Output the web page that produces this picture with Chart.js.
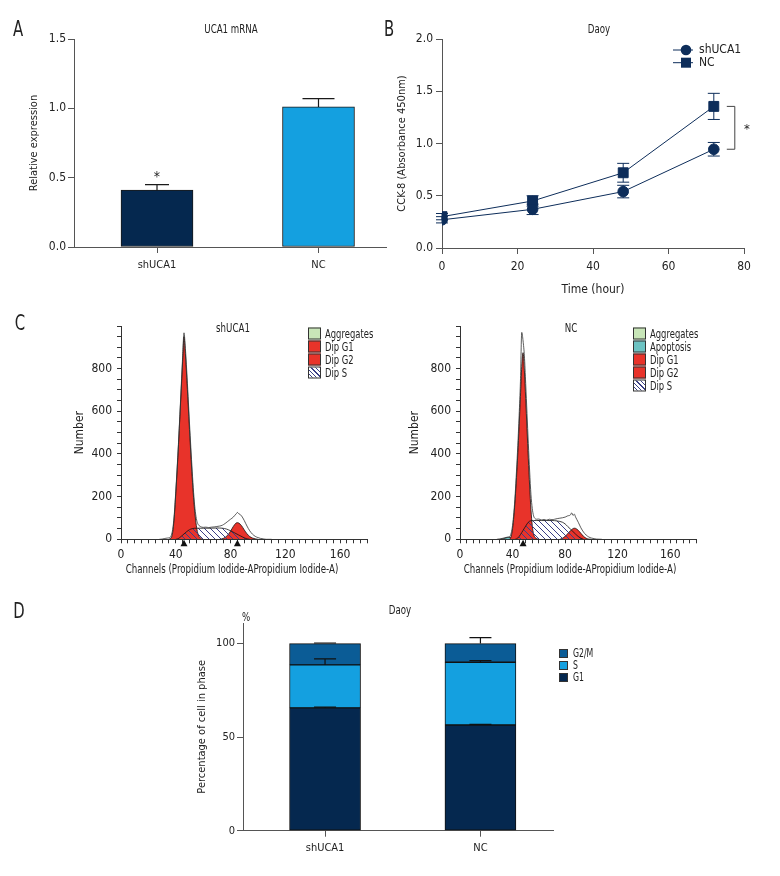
<!DOCTYPE html>
<html>
<head>
<meta charset="utf-8">
<script src="https://cdn.jsdelivr.net/npm/chart.js@4.4.1/dist/chart.umd.min.js"></script>
<style>
  body { margin: 0; background: #fff; }
  #page { position: relative; width: 780px; height: 876px; overflow: hidden;
          font-family: 'Liberation Sans Narrow', 'DejaVu Sans Condensed', 'Arial Narrow', sans-serif; color: #222; }
  canvas { position: absolute; }
  .t { position: absolute; transform: translate(-50%, -50%) scaleX(0.74); white-space: nowrap; font-size: 13px; }
  .big { font-size: 22px; transform: translate(-50%, -50%) scaleX(0.75); }
  .leg { position: absolute; transform: translateY(-50%); display: flex; align-items: center; white-space: nowrap; font-size: 13px; }
  .leg span { display: inline-block; width: 11px; height: 10px; border: 1px solid #333; margin-right: 4px; }
  .leg b { font-weight: normal; display: inline-block; transform: scaleX(0.72); transform-origin: left center; }
  .dleg { font-size: 12px; }
  .dleg span { width: 7px; height: 7px; margin-right: 5px; }
  .hatch { background: repeating-linear-gradient(45deg, #fff 0 2px, #3b3f86 2px 3px); }
</style>
</head>
<body>
<div id="page">
  <canvas id="chartA" width="390" height="280" style="left:0;top:20px"></canvas>
  <canvas id="chartB" width="390" height="290" style="left:390px;top:20px"></canvas>
  <canvas id="chartC1" width="390" height="290" style="left:0;top:300px"></canvas>
  <canvas id="chartC2" width="390" height="290" style="left:390px;top:300px"></canvas>
  <canvas id="chartD" width="400" height="286" style="left:180px;top:590px"></canvas>

  <div class="t big" style="left:18px;top:28px">A</div>
  <div class="t big" style="left:389px;top:28px">B</div>
  <div class="t big" style="left:20px;top:322px">C</div>
  <div class="t big" style="left:19px;top:610px">D</div>

  <div class="t" style="left:231px;top:28px">UCA1 mRNA</div>
  <div class="t" style="left:599px;top:28px">Daoy</div>
  <div class="t" style="left:233px;top:327px">shUCA1</div>
  <div class="t" style="left:571px;top:327px">NC</div>
  <div class="t" style="left:232px;top:568px">Channels (Propidium Iodide-APropidium Iodide-A)</div>
  <div class="t" style="left:570px;top:568px">Channels (Propidium Iodide-APropidium Iodide-A)</div>
  <div class="t" style="left:400px;top:609px">Daoy</div>
  <div class="t" style="left:246px;top:616px">%</div>

  <div class="leg" style="left:308px;top:333px"><span style="background:#c8e6b8"></span><b>Aggregates</b></div>
  <div class="leg" style="left:308px;top:346px"><span style="background:#e8332a"></span><b>Dip G1</b></div>
  <div class="leg" style="left:308px;top:359px"><span style="background:#e8332a"></span><b>Dip G2</b></div>
  <div class="leg" style="left:308px;top:372px"><span class="hatch"></span><b>Dip S</b></div>

  <div class="leg" style="left:633px;top:333px"><span style="background:#c8e6b8"></span><b>Aggregates</b></div>
  <div class="leg" style="left:633px;top:346px"><span style="background:#6cc3c3"></span><b>Apoptosis</b></div>
  <div class="leg" style="left:633px;top:359px"><span style="background:#e8332a"></span><b>Dip G1</b></div>
  <div class="leg" style="left:633px;top:372px"><span style="background:#e8332a"></span><b>Dip G2</b></div>
  <div class="leg" style="left:633px;top:385px"><span class="hatch"></span><b>Dip S</b></div>

  <div class="leg dleg" style="left:559px;top:653px"><span style="background:#0b5c96"></span><b>G2/M</b></div>
  <div class="leg dleg" style="left:559px;top:665px"><span style="background:#14a0e0"></span><b>S</b></div>
  <div class="leg dleg" style="left:559px;top:677px"><span style="background:#05284f"></span><b>G1</b></div>
</div>

<script>
// ---- data ----
// A: UCA1 mRNA
const aGroups = ['shUCA1', 'NC'];
const aExpression = [0.41, 1.01];
const aExpressionErr = [0.04, 0.06];

// B: CCK-8 growth curve
const bHours = [0, 24, 48, 72];
const bShUCA1 = [0.27, 0.37, 0.54, 0.945];
const bShUCA1Err = [0.03, 0.05, 0.06, 0.065];
const bNC = [0.30, 0.45, 0.72, 1.355];
const bNCErr = [0.03, 0.05, 0.09, 0.125];

// C: cell cycle histograms, [channel, number]
const cShRaw = [[28,0],[30,1],[32,4],[34,6],[36,10],[37,24],[38,58],[39,125],[40,225],[41,335],[42,455],[43,585],[44,720],[45,855],[46,968],[47,895],[48,790],[49,670],[50,545],[51,430],[52,320],[53,220],[54,145],[55,98],[56,74],[58,60],[60,56],[62,57],[64,55],[66,57],[68,58],[70,60],[72,62],[74,66],[76,74],[78,84],[80,94],[82,104],[83,112],[84,118],[85,126],[86,120],[87,116],[88,110],[90,88],[92,62],[94,40],[96,24],[98,14],[100,8],[102,4],[104,2],[106,0],[110,0]];
const cShG1 = [[35,0],[37,12],[38,45],[39,115],[40,215],[41,325],[42,445],[43,575],[44,705],[45,835],[46,950],[47,870],[48,760],[49,640],[50,515],[51,400],[52,290],[53,195],[54,120],[55,65],[56,30],[58,6],[60,0]];
const cShS = [[40,0],[42,4],[44,14],[46,25],[48,36],[50,45],[52,50],[55,52],[60,52],[65,52],[70,53],[74,52],[77,48],[80,40],[83,30],[86,20],[89,10],[92,2],[94,0]];
const cShG2 = [[72,0],[75,5],[78,20],[80,38],[82,60],[84,76],[85,78],[86,76],[88,64],[90,44],[92,26],[94,13],[96,6],[98,2],[100,0]];
const cShPeaks = [46, 85];

const cNcRaw = [[28,0],[30,2],[32,4],[34,7],[36,10],[38,14],[39,30],[40,65],[41,125],[42,210],[43,320],[44,440],[45,580],[46,740],[47,970],[48,930],[49,860],[50,730],[51,590],[52,450],[53,320],[54,210],[55,145],[56,110],[57,98],[58,94],[60,95],[62,91],[64,93],[66,90],[68,94],[70,92],[72,94],[74,97],[76,99],[78,101],[80,104],[82,110],[84,114],[85,124],[86,112],[87,118],[88,104],[90,80],[92,54],[94,34],[96,20],[98,11],[100,6],[102,3],[104,1],[108,0]];
const cNcApop = [[31,0],[33,3],[35,7],[37,9],[39,6],[41,0]];
const cNcG1 = [[38,0],[39,15],[40,50],[41,110],[42,190],[43,290],[44,400],[45,530],[46,670],[47,810],[48,875],[49,790],[50,660],[51,520],[52,380],[53,250],[54,140],[55,65],[56,25],[58,5],[60,0]];
const cNcS = [[42,0],[44,6],[46,22],[48,42],[50,62],[52,80],[54,87],[58,88],[62,88],[66,88],[70,88],[74,86],[78,80],[80,72],[82,60],[84,48],[86,36],[88,24],[90,13],[92,5],[94,0]];
const cNcG2 = [[76,0],[78,5],[80,14],[82,26],[84,40],[86,50],[87,52],[88,51],[90,42],[92,28],[94,14],[96,5],[98,1],[100,0]];
const cNcPeaks = [48];

// D: percentage of cells in phase
const dGroups = ['shUCA1', 'NC'];
const dG1 = [65.6, 56.5];
const dS = [23.0, 33.5];
const dG2M = [11.4, 10.0];
const dG1Err = [0.4, 0.3];
const dSErr = [3.2, 0.9];
const dG2MErr = [0.3, 3.2];

// ---- styles ----
const FONT = "'Liberation Sans Narrow', 'DejaVu Sans Condensed', 'Arial Narrow', sans-serif";
const NAVY = '#05284f';
const SKY = '#14a0e0';
const MID = '#0b5c96';
const LINE = '#0d2d5a';
const RED = '#e8332a';
const AX = '#555';

Chart.defaults.font.family = FONT;
Chart.defaults.font.size = 11;
Chart.defaults.color = '#222';
Chart.defaults.animation = false;
Chart.defaults.responsive = false;
Chart.defaults.plugins.legend.display = false;
Chart.defaults.plugins.tooltip.enabled = false;

function hatchPattern() {
  const c = document.createElement('canvas');
  c.width = 6; c.height = 6;
  const g = c.getContext('2d');
  g.strokeStyle = '#3b3f86';
  g.lineWidth = 1;
  g.beginPath();
  g.moveTo(0, 0); g.lineTo(6, 6);
  g.moveTo(-3, 3); g.lineTo(3, 9);
  g.moveTo(3, -3); g.lineTo(9, 3);
  g.stroke();
  return g.createPattern(c, 'repeat');
}

const toXY = pairs => pairs.map(([x, y]) => ({ x, y }));

// ---- A ----
const aCapWidths = [24, 32];
new Chart(document.getElementById('chartA'), {
  type: 'bar',
  data: {
    datasets: [{
      data: aGroups.map((g, i) => ({ x: i, y: aExpression[i] })),
      backgroundColor: [NAVY, SKY],
      borderColor: '#1a1a1a',
      borderWidth: 1,
      borderSkipped: false,
      barThickness: 72
    }]
  },
  options: {
    layout: { padding: { left: 24, top: 19, right: 4, bottom: 23 } },
    scales: {
      x: {
        type: 'linear', min: -0.514, max: 1.418, offset: false,
        afterBuildTicks: s => { s.ticks = aGroups.map((g, i) => ({ value: i })); },
        afterFit: s => { s.height = 30; },
        ticks: { callback: v => aGroups[v], padding: 6, maxRotation: 0, autoSkip: false },
        grid: { offset: false, drawOnChartArea: false, tickLength: 6, color: AX },
        border: { color: AX }
      },
      y: {
        min: 0, max: 1.5,
        afterFit: s => { s.width = 50; },
        ticks: { stepSize: 0.5, callback: v => v.toFixed(1), padding: 2, font: { size: 12 } },
        title: { display: true, text: 'Relative expression' },
        grid: { drawOnChartArea: false, tickLength: 6, color: AX },
        border: { color: AX }
      }
    }
  },
  plugins: [{
    id: 'errA',
    afterDatasetsDraw(chart) {
      const { ctx, scales: { x, y } } = chart;
      ctx.save();
      ctx.strokeStyle = '#1a1a1a';
      ctx.lineWidth = 1.2;
      aExpression.forEach((v, i) => {
        const px = x.getPixelForValue(i);
        const y0 = y.getPixelForValue(v);
        const y1 = y.getPixelForValue(v + aExpressionErr[i]);
        const w = aCapWidths[i] / 2;
        ctx.beginPath();
        ctx.moveTo(px, y0); ctx.lineTo(px, y1);
        ctx.moveTo(px - w, y1); ctx.lineTo(px + w, y1);
        ctx.stroke();
      });
      ctx.fillStyle = '#222';
      ctx.font = '14px ' + FONT;
      ctx.textAlign = 'center';
      ctx.textBaseline = 'middle';
      ctx.fillText('*', x.getPixelForValue(0), y.getPixelForValue(aExpression[0] + aExpressionErr[0]) - 7);
      ctx.restore();
    }
  }]
});

// ---- B ----
new Chart(document.getElementById('chartB'), {
  type: 'line',
  data: {
    datasets: [
      { label: 'shUCA1', data: bHours.map((h, i) => ({ x: h, y: bShUCA1[i] })), errors: bShUCA1Err,
        borderColor: LINE, backgroundColor: LINE, borderWidth: 1, pointStyle: 'circle', pointRadius: 5.3 },
      { label: 'NC', data: bHours.map((h, i) => ({ x: h, y: bNC[i] })), errors: bNCErr,
        borderColor: LINE, backgroundColor: LINE, borderWidth: 1, pointStyle: 'rect', pointRadius: 7 }
    ]
  },
  options: {
    layout: { padding: { left: 2, top: 19, right: 36, bottom: 9 } },
    scales: {
      x: {
        type: 'linear', min: 0, max: 80,
        afterFit: s => { s.height = 53; },
        ticks: { stepSize: 20, padding: 6, font: { size: 12 } },
        title: { display: true, text: 'Time (hour)', padding: { top: 4, bottom: 4 }, font: { size: 12 } },
        grid: { drawOnChartArea: false, tickLength: 6, color: AX },
        border: { color: AX }
      },
      y: {
        min: 0, max: 2,
        afterFit: s => { s.width = 50; },
        ticks: { stepSize: 0.5, callback: v => v.toFixed(1), padding: 3, font: { size: 12 } },
        title: { display: true, text: 'CCK-8 (Absorbance 450nm)' },
        grid: { drawOnChartArea: false, tickLength: 6, color: AX },
        border: { color: AX }
      }
    }
  },
  plugins: [{
    id: 'errB',
    beforeDatasetsDraw(chart) {
      const { ctx, scales: { x, y } } = chart;
      ctx.save();
      ctx.strokeStyle = LINE;
      ctx.lineWidth = 1;
      chart.data.datasets.forEach(ds => {
        ds.data.forEach((p, i) => {
          const px = x.getPixelForValue(p.x);
          const y1 = y.getPixelForValue(p.y + ds.errors[i]);
          const y2 = y.getPixelForValue(p.y - ds.errors[i]);
          ctx.beginPath();
          ctx.moveTo(px, y1); ctx.lineTo(px, y2);
          ctx.moveTo(px - 6, y1); ctx.lineTo(px + 6, y1);
          ctx.moveTo(px - 6, y2); ctx.lineTo(px + 6, y2);
          ctx.stroke();
        });
      });
      ctx.restore();
    },
    afterDraw(chart) {
      const { ctx, scales: { x, y } } = chart;
      ctx.save();
      // legend
      chart.data.datasets.forEach((ds, k) => {
        const ly = 30 + k * 12.7;
        ctx.strokeStyle = LINE;
        ctx.fillStyle = LINE;
        ctx.lineWidth = 1;
        ctx.beginPath();
        ctx.moveTo(283, ly); ctx.lineTo(303, ly);
        ctx.stroke();
        if (ds.pointStyle === 'circle') {
          ctx.beginPath(); ctx.arc(296, ly, 5.3, 0, Math.PI * 2); ctx.fill();
        } else {
          ctx.fillRect(291, ly - 5, 10, 10);
        }
        ctx.fillStyle = '#222';
        ctx.font = '12px ' + FONT;
        ctx.textAlign = 'left';
        ctx.textBaseline = 'middle';
        ctx.fillText(ds.label, 309, ly);
      });
      // significance bracket at the last time point
      const last = bHours.length - 1;
      const bx = x.getPixelForValue(bHours[last]) + 21;
      const yTop = y.getPixelForValue(bNC[last]);
      const yBot = y.getPixelForValue(bShUCA1[last]);
      ctx.strokeStyle = '#444';
      ctx.beginPath();
      ctx.moveTo(bx - 8, yTop); ctx.lineTo(bx, yTop); ctx.lineTo(bx, yBot); ctx.lineTo(bx - 8, yBot);
      ctx.stroke();
      ctx.fillStyle = '#222';
      ctx.font = '13px ' + FONT;
      ctx.textAlign = 'center';
      ctx.textBaseline = 'middle';
      ctx.fillText('*', bx + 12, (yTop + yBot) / 2 + 2);
      ctx.restore();
    }
  }]
});

// ---- C ----
function histChart(id, parts, peaks, pad, yWidth) {
  const hatch = hatchPattern();
  const line = { pointRadius: 0, borderWidth: 0.8, cubicInterpolationMode: 'monotone' };
  const datasets = [
    Object.assign({ data: toXY(parts.raw), borderColor: '#333', fill: false, order: 0 }, line),
    Object.assign({ data: toXY(parts.s), borderColor: '#111', backgroundColor: hatch, fill: 'origin', order: 1 }, line),
    Object.assign({ data: toXY(parts.g2), borderColor: '#111', backgroundColor: RED, fill: 'origin', order: 2 }, line),
    Object.assign({ data: toXY(parts.g1), borderColor: '#111', backgroundColor: RED, fill: 'origin', order: 3 }, line)
  ];
  if (parts.apop) {
    datasets.push(Object.assign({ data: toXY(parts.apop), borderColor: '#111', backgroundColor: '#6cc3c3', fill: 'origin', order: 4 }, line));
  }
  new Chart(document.getElementById(id), {
    type: 'line',
    data: { datasets },
    options: {
      layout: { padding: pad },
      scales: {
        x: {
          type: 'linear', min: 0, max: 180,
          afterBuildTicks: s => {
            const t = [];
            for (let v = 0; v <= 180; v += 5) t.push({ value: v });
            s.ticks = t;
          },
          afterFit: s => { s.height = 30; },
          ticks: { callback: v => (v % 40 === 0 ? v : ''), padding: 4, autoSkip: false, maxRotation: 0, font: { size: 12 } },
          grid: { drawOnChartArea: false, tickLength: 4, color: '#333' },
          border: { color: '#333' }
        },
        y: {
          min: 0, max: 1000,
          afterFit: s => { s.width = yWidth; },
          ticks: { stepSize: 50, callback: v => (v % 200 === 0 && v < 1000 ? v : ''), padding: 5, autoSkip: false, font: { size: 12 } },
          title: { display: true, text: 'Number', font: { size: 12 } },
          grid: { drawOnChartArea: false, tickLength: 4, color: '#333' },
          border: { color: '#333' }
        }
      }
    },
    plugins: [{
      id: 'peakMarks',
      afterDraw(chart) {
        const { ctx, scales: { x, y } } = chart;
        ctx.save();
        ctx.fillStyle = '#111';
        peaks.forEach(ch => {
          const px = x.getPixelForValue(ch);
          const py = y.getPixelForValue(0);
          ctx.beginPath();
          ctx.moveTo(px, py + 0.5); ctx.lineTo(px + 3.5, py + 7); ctx.lineTo(px - 3.5, py + 7);
          ctx.closePath();
          ctx.fill();
        });
        ctx.restore();
      }
    }]
  });
}

histChart('chartC1', { raw: cShRaw, g1: cShG1, s: cShS, g2: cShG2 }, cShPeaks,
  { left: 69, top: 26, right: 22.5, bottom: 20.7 }, 52);
histChart('chartC2', { raw: cNcRaw, g1: cNcG1, s: cNcS, g2: cNcG2, apop: cNcApop }, cNcPeaks,
  { left: 14, top: 26, right: 83.5, bottom: 20.7 }, 56);

// ---- D ----
const dErr = [dG1Err, dSErr, dG2MErr];
new Chart(document.getElementById('chartD'), {
  type: 'bar',
  data: {
    datasets: [
      { label: 'G1', data: dGroups.map((g, i) => ({ x: i, y: dG1[i] })), backgroundColor: NAVY },
      { label: 'S', data: dGroups.map((g, i) => ({ x: i, y: dS[i] })), backgroundColor: SKY },
      { label: 'G2/M', data: dGroups.map((g, i) => ({ x: i, y: dG2M[i] })), backgroundColor: MID }
    ].map(ds => Object.assign(ds, { borderColor: '#111', borderWidth: 1, borderSkipped: false, barThickness: 71 }))
  },
  options: {
    layout: { padding: { left: 12, top: 33, right: 27, bottom: 15.3 } },
    scales: {
      x: {
        type: 'linear', min: -0.528, max: 1.467, stacked: true, offset: false,
        afterBuildTicks: s => { s.ticks = dGroups.map((g, i) => ({ value: i })); },
        afterFit: s => { s.height = 30; },
        ticks: { callback: v => dGroups[v], padding: 5, maxRotation: 0, autoSkip: false },
        grid: { offset: false, drawOnChartArea: false, tickLength: 6, color: AX },
        border: { color: AX }
      },
      y: {
        min: 0, max: 111, stacked: true,
        afterFit: s => { s.width = 51; },
        ticks: { stepSize: 50, includeBounds: false, padding: 2 },
        title: { display: true, text: 'Percentage of cell in phase' },
        grid: { drawOnChartArea: false, tickLength: 6, color: AX },
        border: { color: AX }
      }
    }
  },
  plugins: [{
    id: 'errD',
    afterDatasetsDraw(chart) {
      const { ctx, scales: { y } } = chart;
      ctx.save();
      ctx.strokeStyle = '#111';
      ctx.lineWidth = 1.2;
      chart.data.datasets.forEach((ds, k) => {
        chart.getDatasetMeta(k).data.forEach((bar, i) => {
          const top = y.getValueForPixel(bar.y);
          const y1 = y.getPixelForValue(top + dErr[k][i]);
          ctx.beginPath();
          ctx.moveTo(bar.x, bar.y); ctx.lineTo(bar.x, y1);
          ctx.moveTo(bar.x - 11, y1); ctx.lineTo(bar.x + 11, y1);
          ctx.stroke();
        });
      });
      ctx.restore();
    }
  }]
});
</script>
</body>
</html>
